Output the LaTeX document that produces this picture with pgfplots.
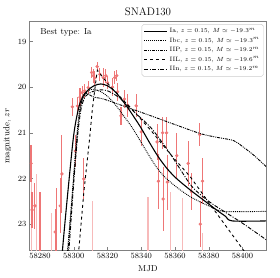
\documentclass[border=0pt]{standalone}
\usepackage{pgfplots}
\pgfplotsset{compat=1.18}
\definecolor{pt}{RGB}{238,118,118}
\definecolor{ptf}{RGB}{247,186,186}
\begin{document}
\begin{tikzpicture}
\begin{axis}[
  width=238pt, height=230pt, scale only axis,
  xmin=58274, xmax=58414, ymin=18.57, ymax=23.57, y dir=reverse,
  xtick={58280,58300,...,58400}, ytick={19,20,21,22,23},
  scaled x ticks=false,
  xticklabel style={/pgf/number format/.cd, fixed, 1000 sep={}},
  tick align=inside, tick pos=left, major tick length=3.5pt,
  axis line style={gray, line width=0.8pt}, tick style={gray},
  ticklabel style={font=\fontsize{8.5}{10}\selectfont},
  label style={font=\fontsize{8.7}{10}\selectfont},
  xlabel={MJD}, ylabel={magnitude, $zr$},
  title={SNAD130}, title style={font=\fontsize{11}{13}\selectfont, yshift=-3pt},
  clip marker paths=true,
  legend style={at={(rel axis cs:0.99,0.99)}, anchor=north east, draw=gray!40, rounded corners=2pt,
    font=\fontsize{6.3}{7.5}\selectfont, row sep=-0.6pt, inner sep=2pt},
  legend cell align=left,
  legend image code/.code={\draw[#1] (0cm,0cm) -- (0.8cm,0cm);},
]
% faded error bars (points beyond plot)
\addplot[only marks, mark=*, mark size=1.5pt, color=ptf, forget plot,
  error bars/.cd, y dir=both, y explicit, error mark=none,
  error bar style={line width=1.3pt, color=ptf}]
  coordinates {
  (58275,24.8) +- (0,3.5)
  (58287,24.5) +- (0,1.74)
  (58311,24.5) +- (0,2.0)
  (58344,24.5) +- (0,2.1)
  (58364.5,24.2) +- (0,1.77)
  (58357.5,24.2) +- (0,1.9)
  (58376.5,24.4) +- (0,1.2)
  (58278,24.5) +- (0,2.6)
};
\addplot[only marks, mark=*, mark size=1.5pt, color=pt, forget plot,
  error bars/.cd, y dir=both, y explicit, error mark=none,
  error bar style={line width=1.1pt, color=pt}]
  coordinates {
  (58280,24.5) +- (0,2.2)
  (58290,24.5) +- (0,2.3)
  (58274.7,21.67) +- (0,0.4)
  (58275.3,22.69) +- (0,0.4)
  (58277,22.6) +- (0,0.5)
  (58289,23.17) +- (0,0.5)
  (58292,22.6) +- (0,0.6)
  (58293,21.9) +- (0,0.85)
  (58299.2,20.43) +- (0,0.2)
  (58301,21.4) +- (0,0.35)
  (58302.2,20.41) +- (0,0.2)
  (58303.7,20.22) +- (0,0.2)
  (58305.1,20.12) +- (0,0.15)
  (58306,22.01) +- (0,0.45)
  (58306.5,20.08) +- (0,0.15)
  (58308.6,20.01) +- (0,0.15)
  (58310.6,19.68) +- (0,0.12)
  (58311.6,19.75) +- (0,0.15)
  (58312.5,19.8) +- (0,0.15)
  (58313.9,19.55) +- (0,0.1)
  (58315.5,19.72) +- (0,0.15)
  (58317.5,19.79) +- (0,0.2)
  (58319,19.75) +- (0,0.15)
  (58320,19.9) +- (0,0.15)
  (58323,20.0) +- (0,0.2)
  (58324.3,19.79) +- (0,0.15)
  (58325.5,19.75) +- (0,0.12)
  (58326,20.1) +- (0,0.2)
  (58328,20.63) +- (0,0.2)
  (58330,20.26) +- (0,0.2)
  (58332,20.4) +- (0,0.25)
  (58337,20.41) +- (0,0.25)
  (58340,20.98) +- (0,0.3)
  (58349.4,21.2) +- (0,0.4)
  (58350.2,22.06) +- (0,0.6)
  (58352.7,21.0) +- (0,0.35)
  (58353,22.45) +- (0,0.7)
  (58355,21.0) +- (0,0.35)
  (58355.5,22.08) +- (0,0.6)
  (58361,21.5) +- (0,0.5)
  (58367.8,21.67) +- (0,0.5)
  (58369.8,22.29) +- (0,0.4)
  (58374.7,21.04) +- (0,0.25)
  (58375,23.0) +- (0,0.5)
  (58376.3,22.06) +- (0,0.5)
};
% model curves
\addplot[black, line width=1.1pt, smooth] coordinates {
 (58292.5,24.0) (58293.5,23.5) (58296,22.5) (58299.5,21.2) (58301.5,20.7) (58303.7,20.35)
 (58306,20.17) (58308.6,20.06) (58312,19.97) (58316,19.93) (58320,19.97) (58324,20.08)
 (58328,20.25) (58332,20.45) (58336,20.67) (58340,20.9) (58345,21.22) (58350,21.52)
 (58355,21.77) (58360,21.97) (58365,22.13) (58370,22.28) (58375,22.42) (58380,22.56)
 (58385,22.7) (58390,22.83) (58394,22.93) (58414,22.93)};
\addlegendentry{Ia, $z=0.15$, $M\simeq-19.3^m$}
\addplot[black, line width=0.9pt, densely dotted, smooth] coordinates {
 (58295,24.0) (58296.5,23.5) (58299,22.4) (58301.5,21.2) (58303.5,20.5) (58306,20.2)
 (58309,20.07) (58312,20.05) (58316,20.1) (58320,20.2) (58325,20.4) (58330,20.65)
 (58334,20.85) (58339,21.15) (58344,21.46) (58349,21.75) (58354,21.97) (58362,22.22)
 (58370,22.42) (58380,22.6) (58389,22.72) (58414,22.72)};
\addlegendentry{Ibc, $z=0.15$, $M\simeq-19.3^m$}
\addplot[black, line width=0.9pt, dash pattern=on 3pt off 1pt on 1pt off 1pt on 1pt off 1pt, smooth] coordinates {
 (58295.8,24.0) (58297,23.4) (58300,22.0) (58302.5,20.9) (58304.5,20.35) (58306.5,20.14)
 (58309,20.16) (58312,20.22) (58317.6,20.26) (58330,20.42) (58345.9,20.63) (58360,20.82)
 (58375.3,21.02) (58385,21.1) (58394.7,21.17) (58400,21.3) (58407,21.5) (58414,21.74)};
\addlegendentry{IIP, $z=0.15$, $M\simeq-19.2^m$}
\addplot[black, line width=0.9pt, dashed] coordinates {
 (58301,24.2) (58303,23.57) (58306,22.3) (58309.4,21.13) (58311,20.5) (58313,19.9)
 (58314,19.63) (58318,19.82) (58322,20.0) (58336,20.54) (58346,20.96) (58358,21.5)
 (58369,21.96) (58377,22.37) (58385,22.78) (58400.6,23.57) (58403,23.7)};
\addlegendentry{IIL, $z=0.15$, $M\simeq-19.6^m$}
\addplot[black, line width=0.9pt, dash pattern=on 4pt off 1.5pt on 1pt off 1.5pt, smooth] coordinates {
 (58296.2,24.0) (58297.5,23.4) (58300,22.1) (58302.5,21.0) (58304.5,20.45) (58307,20.2)
 (58311,20.1) (58316,20.06) (58320,20.08) (58325,20.18) (58330,20.33) (58336,20.55)
 (58346,20.9) (58357,21.45) (58364,21.85) (58370.6,22.2) (58380,22.5) (58389,22.72)
 (58400,22.98) (58414,23.34)};
\addlegendentry{IIn, $z=0.15$, $M\simeq-19.2^m$}
\node[anchor=west, font=\fontsize{8.7}{10}\selectfont] at (rel axis cs:0.03,0.952) {Best type: Ia};
\end{axis}
\path (current axis.south west) ++(-28pt,-28pt) coordinate (a);
\path (current axis.north east) ++(14pt,22pt) coordinate (b);
\path (a) rectangle (b);
\end{tikzpicture}
\end{document}
